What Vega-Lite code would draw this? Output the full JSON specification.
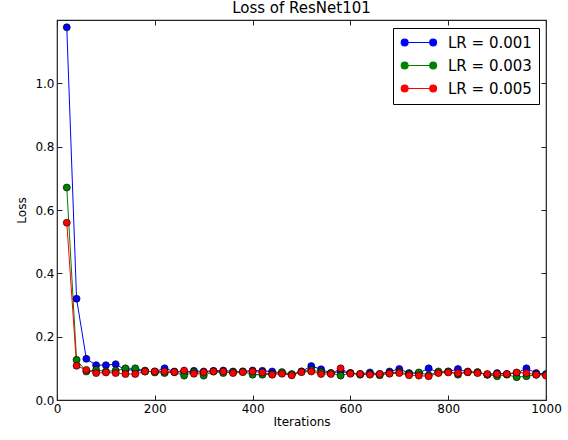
{
  "$schema": "https://vega.github.io/schema/vega-lite/v6.json",
  "width": 489,
  "height": 380,
  "autosize": "none",
  "padding": {"left": 57, "top": 20, "right": 22, "bottom": 40},
  "background": "white",
  "title": {"text": "Loss of ResNet101", "font": "DejaVu Sans", "fontSize": 15, "fontWeight": "normal", "color": "black", "offset": 4},
  "config": {
    "view": {"stroke": "#222222", "strokeWidth": 1.2},
    "axis": {"labelFont": "DejaVu Sans", "titleFont": "DejaVu Sans", "labelFontSize": 12, "titleFontSize": 12, "titleFontWeight": "normal", "labelColor": "black", "titleColor": "black", "domain": false, "grid": false, "tickColor": "#222222", "tickSize": -5, "labelPadding": 8, "labelFlush": false, "labelOverlap": false}
  },
  "data": {"values": [
    {"it":20,"s":"LR = 0.001","v":1.177},{"it":40,"s":"LR = 0.001","v":0.32},{"it":60,"s":"LR = 0.001","v":0.13},{"it":80,"s":"LR = 0.001","v":0.11},{"it":100,"s":"LR = 0.001","v":0.11},{"it":120,"s":"LR = 0.001","v":0.113},{"it":140,"s":"LR = 0.001","v":0.095},{"it":160,"s":"LR = 0.001","v":0.095},{"it":180,"s":"LR = 0.001","v":0.09},{"it":200,"s":"LR = 0.001","v":0.09},
    {"it":220,"s":"LR = 0.001","v":0.1},{"it":240,"s":"LR = 0.001","v":0.09},{"it":260,"s":"LR = 0.001","v":0.088},{"it":280,"s":"LR = 0.001","v":0.092},{"it":300,"s":"LR = 0.001","v":0.09},{"it":320,"s":"LR = 0.001","v":0.092},{"it":340,"s":"LR = 0.001","v":0.093},{"it":360,"s":"LR = 0.001","v":0.09},{"it":380,"s":"LR = 0.001","v":0.09},{"it":400,"s":"LR = 0.001","v":0.093},
    {"it":420,"s":"LR = 0.001","v":0.092},{"it":440,"s":"LR = 0.001","v":0.09},{"it":460,"s":"LR = 0.001","v":0.085},{"it":480,"s":"LR = 0.001","v":0.08},{"it":500,"s":"LR = 0.001","v":0.09},{"it":520,"s":"LR = 0.001","v":0.107},{"it":540,"s":"LR = 0.001","v":0.097},{"it":560,"s":"LR = 0.001","v":0.085},{"it":580,"s":"LR = 0.001","v":0.09},{"it":600,"s":"LR = 0.001","v":0.085},
    {"it":620,"s":"LR = 0.001","v":0.082},{"it":640,"s":"LR = 0.001","v":0.087},{"it":660,"s":"LR = 0.001","v":0.082},{"it":680,"s":"LR = 0.001","v":0.09},{"it":700,"s":"LR = 0.001","v":0.098},{"it":720,"s":"LR = 0.001","v":0.085},{"it":740,"s":"LR = 0.001","v":0.085},{"it":760,"s":"LR = 0.001","v":0.1},{"it":780,"s":"LR = 0.001","v":0.087},{"it":800,"s":"LR = 0.001","v":0.09},
    {"it":820,"s":"LR = 0.001","v":0.098},{"it":840,"s":"LR = 0.001","v":0.088},{"it":860,"s":"LR = 0.001","v":0.087},{"it":880,"s":"LR = 0.001","v":0.08},{"it":900,"s":"LR = 0.001","v":0.085},{"it":920,"s":"LR = 0.001","v":0.082},{"it":940,"s":"LR = 0.001","v":0.085},{"it":960,"s":"LR = 0.001","v":0.1},{"it":980,"s":"LR = 0.001","v":0.085},{"it":1000,"s":"LR = 0.001","v":0.082},
    {"it":20,"s":"LR = 0.003","v":0.671},{"it":40,"s":"LR = 0.003","v":0.127},{"it":60,"s":"LR = 0.003","v":0.09},{"it":80,"s":"LR = 0.003","v":0.095},{"it":100,"s":"LR = 0.003","v":0.09},{"it":120,"s":"LR = 0.003","v":0.093},{"it":140,"s":"LR = 0.003","v":0.1},{"it":160,"s":"LR = 0.003","v":0.1},{"it":180,"s":"LR = 0.003","v":0.093},{"it":200,"s":"LR = 0.003","v":0.087},
    {"it":220,"s":"LR = 0.003","v":0.085},{"it":240,"s":"LR = 0.003","v":0.088},{"it":260,"s":"LR = 0.003","v":0.077},{"it":280,"s":"LR = 0.003","v":0.088},{"it":300,"s":"LR = 0.003","v":0.077},{"it":320,"s":"LR = 0.003","v":0.09},{"it":340,"s":"LR = 0.003","v":0.085},{"it":360,"s":"LR = 0.003","v":0.088},{"it":380,"s":"LR = 0.003","v":0.09},{"it":400,"s":"LR = 0.003","v":0.08},
    {"it":420,"s":"LR = 0.003","v":0.08},{"it":440,"s":"LR = 0.003","v":0.082},{"it":460,"s":"LR = 0.003","v":0.088},{"it":480,"s":"LR = 0.003","v":0.082},{"it":500,"s":"LR = 0.003","v":0.09},{"it":520,"s":"LR = 0.003","v":0.095},{"it":540,"s":"LR = 0.003","v":0.088},{"it":560,"s":"LR = 0.003","v":0.085},{"it":580,"s":"LR = 0.003","v":0.077},{"it":600,"s":"LR = 0.003","v":0.085},
    {"it":620,"s":"LR = 0.003","v":0.08},{"it":640,"s":"LR = 0.003","v":0.082},{"it":660,"s":"LR = 0.003","v":0.078},{"it":680,"s":"LR = 0.003","v":0.085},{"it":700,"s":"LR = 0.003","v":0.088},{"it":720,"s":"LR = 0.003","v":0.082},{"it":740,"s":"LR = 0.003","v":0.087},{"it":760,"s":"LR = 0.003","v":0.078},{"it":780,"s":"LR = 0.003","v":0.09},{"it":800,"s":"LR = 0.003","v":0.09},
    {"it":820,"s":"LR = 0.003","v":0.08},{"it":840,"s":"LR = 0.003","v":0.09},{"it":860,"s":"LR = 0.003","v":0.088},{"it":880,"s":"LR = 0.003","v":0.08},{"it":900,"s":"LR = 0.003","v":0.075},{"it":920,"s":"LR = 0.003","v":0.08},{"it":940,"s":"LR = 0.003","v":0.072},{"it":960,"s":"LR = 0.003","v":0.075},{"it":980,"s":"LR = 0.003","v":0.08},{"it":1000,"s":"LR = 0.003","v":0.08},
    {"it":20,"s":"LR = 0.005","v":0.56},{"it":40,"s":"LR = 0.005","v":0.108},{"it":60,"s":"LR = 0.005","v":0.095},{"it":80,"s":"LR = 0.005","v":0.085},{"it":100,"s":"LR = 0.005","v":0.087},{"it":120,"s":"LR = 0.005","v":0.085},{"it":140,"s":"LR = 0.005","v":0.082},{"it":160,"s":"LR = 0.005","v":0.082},{"it":180,"s":"LR = 0.005","v":0.09},{"it":200,"s":"LR = 0.005","v":0.09},
    {"it":220,"s":"LR = 0.005","v":0.09},{"it":240,"s":"LR = 0.005","v":0.088},{"it":260,"s":"LR = 0.005","v":0.093},{"it":280,"s":"LR = 0.005","v":0.083},{"it":300,"s":"LR = 0.005","v":0.088},{"it":320,"s":"LR = 0.005","v":0.09},{"it":340,"s":"LR = 0.005","v":0.09},{"it":360,"s":"LR = 0.005","v":0.085},{"it":380,"s":"LR = 0.005","v":0.088},{"it":400,"s":"LR = 0.005","v":0.09},
    {"it":420,"s":"LR = 0.005","v":0.087},{"it":440,"s":"LR = 0.005","v":0.08},{"it":460,"s":"LR = 0.005","v":0.083},{"it":480,"s":"LR = 0.005","v":0.078},{"it":500,"s":"LR = 0.005","v":0.088},{"it":520,"s":"LR = 0.005","v":0.09},{"it":540,"s":"LR = 0.005","v":0.082},{"it":560,"s":"LR = 0.005","v":0.082},{"it":580,"s":"LR = 0.005","v":0.1},{"it":600,"s":"LR = 0.005","v":0.083},
    {"it":620,"s":"LR = 0.005","v":0.082},{"it":640,"s":"LR = 0.005","v":0.08},{"it":660,"s":"LR = 0.005","v":0.082},{"it":680,"s":"LR = 0.005","v":0.083},{"it":700,"s":"LR = 0.005","v":0.085},{"it":720,"s":"LR = 0.005","v":0.078},{"it":740,"s":"LR = 0.005","v":0.077},{"it":760,"s":"LR = 0.005","v":0.075},{"it":780,"s":"LR = 0.005","v":0.085},{"it":800,"s":"LR = 0.005","v":0.087},
    {"it":820,"s":"LR = 0.005","v":0.085},{"it":840,"s":"LR = 0.005","v":0.088},{"it":860,"s":"LR = 0.005","v":0.085},{"it":880,"s":"LR = 0.005","v":0.082},{"it":900,"s":"LR = 0.005","v":0.082},{"it":920,"s":"LR = 0.005","v":0.082},{"it":940,"s":"LR = 0.005","v":0.087},{"it":960,"s":"LR = 0.005","v":0.085},{"it":980,"s":"LR = 0.005","v":0.08},{"it":1000,"s":"LR = 0.005","v":0.077}
  ]},
  "layer": [
    {
      "encoding": {
        "x": {"field": "it", "type": "quantitative", "scale": {"domain": [0, 1000], "nice": false}, "axis": {"title": "Iterations", "values": [0,200,400,600,800,1000], "format": "d", "titlePadding": 2}},
        "y": {"field": "v", "type": "quantitative", "scale": {"domain": [0, 1.2], "nice": false}, "axis": {"title": "Loss", "values": [0,0.2,0.4,0.6,0.8,1.0], "format": ".1f", "titlePadding": 6}},
        "color": {"field": "s", "type": "nominal", "scale": {"domain": ["LR = 0.001","LR = 0.003","LR = 0.005"], "range": ["#0000ff","#008000","#ff0000"]},
          "legend": {"title": null, "orient": "none", "legendX": 336, "legendY": 8, "strokeColor": "black", "fillColor": "white", "padding": 7, "labelFont": "DejaVu Sans", "labelFontSize": 15, "labelColor": "black", "rowPadding": 7, "labelOffset": 33,
            "symbolType": "M-0.5,0L4.5,0M-1.1,0a0.6,0.6 0 1,0 1.2,0a0.6,0.6 0 1,0 -1.2,0M3.9,0a0.6,0.6 0 1,0 1.2,0a0.6,0.6 0 1,0 -1.2,0",
            "symbolSize": 130, "symbolStrokeWidth": 1.2, "symbolOpacity": 1}}
      },
      "layer": [
        {"mark": {"type": "line", "strokeWidth": 1, "clip": true}},
        {"mark": {"type": "point", "filled": true, "size": 50, "stroke": "black", "strokeWidth": 0.6, "opacity": 1, "clip": true}}
      ]
    },
    {
      "mark": {"type": "point", "opacity": 0},
      "encoding": {
        "x": {"field": "it", "type": "quantitative", "scale": {"domain": [0, 1000], "nice": false}, "axis": {"orient": "top", "title": null, "labels": false, "values": [0,200,400,600,800,1000]}},
        "y": {"field": "v", "type": "quantitative", "scale": {"domain": [0, 1.2], "nice": false}, "axis": {"orient": "right", "title": null, "labels": false, "values": [0,0.2,0.4,0.6,0.8,1.0]}}
      }
    }
  ],
  "resolve": {"axis": {"x": "independent", "y": "independent"}}
}
